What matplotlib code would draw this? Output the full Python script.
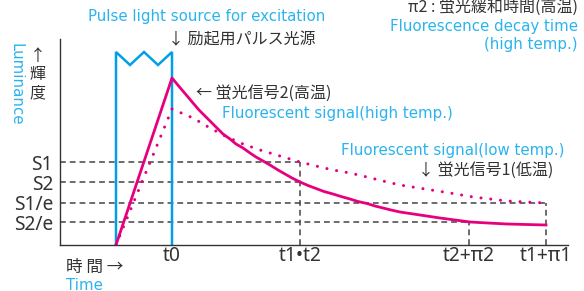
import matplotlib
matplotlib.use("Agg")
import matplotlib.pyplot as plt

plt.rcParams['font.family'] = ['Noto Sans CJK JP', 'DejaVu Sans']

MAGENTA = "#e6007e"
CYAN = "#00a0e9"
CYAN_TXT = "#29b4ee"
GRAY = "#333333"
DASH = "#444444"
EN = ['DejaVu Sans']

# time / luminance in arbitrary units (origin at the axes corner)
pulse_x = [56, 56, 70, 84, 98, 112, 112]
pulse_y = [0, 193, 180, 193, 180, 193, 0]

high_x = [56, 112, 117, 122, 128, 133, 139, 145, 151, 157, 163, 170, 176, 183,
          190, 196, 203, 210, 218, 225, 232, 240, 248, 256, 264, 273, 281,
          290, 298, 307, 315, 323, 331, 340, 350, 360, 370, 380, 395, 410,
          428, 447, 466, 486]
high_y = [0, 167, 161, 155, 148, 142, 135, 129, 123, 117, 111, 106, 101, 97,
          92, 88, 84, 80, 75, 71, 67, 63, 59.5, 56.5, 53.5, 51, 48.5,
          46, 43.5, 41.5, 39, 37, 35, 33, 31.5, 30, 28.5, 27, 25, 23,
          22, 21, 20.5, 20]

low_x = [56, 112, 133, 150, 167, 183, 200, 220, 240, 256, 273, 290, 307, 323,
         340, 365, 390, 413, 447, 486]
low_y = [0, 136, 127, 117, 108, 101, 95, 89, 83, 79, 75, 72, 68, 64,
         60, 56, 52, 48, 44, 42]

levels = [83, 63, 42, 23]
level_labels = ["S1", "S2", "S1/e", "S2/e"]
level_end = [240, 240, 486, 409]

times = [112, 240, 409, 486]
time_labels = ["t0", "t1•t2", "t2+π2", "t1+π1"]
time_top = [None, 83, 23, 42]

W, H = 584, 291
fig = plt.figure(figsize=(W / 100, H / 100), dpi=100)
ax = fig.add_axes([60 / W, 46 / H, 508 / W, 206 / H])
ax.set_xlim(0, 508)
ax.set_ylim(0, 206)
for s in ["top", "right"]:
    ax.spines[s].set_visible(False)
for s in ["left", "bottom"]:
    ax.spines[s].set_color(GRAY)
    ax.spines[s].set_linewidth(1.0)

# dashed guides
for lv, xe in zip(levels, level_end):
    ax.plot([0, xe], [lv, lv], color=DASH, lw=1.1, dashes=(3.8, 2.6))
for t, top in zip(times, time_top):
    if top is not None:
        ax.plot([t, t], [0, top], color=DASH, lw=1.1, dashes=(3.8, 2.6))

ax.plot(pulse_x, pulse_y, color=CYAN, lw=1.8, solid_joinstyle="miter")
ax.plot(low_x, low_y, color=MAGENTA, lw=2.2, linestyle=(0, (0.01, 3.2)),
        dash_capstyle="round")
ax.plot(high_x, high_y, color=MAGENTA, lw=2.0)

ax.set_xticks(times, time_labels)
ax.set_yticks(levels, level_labels)
ax.tick_params(length=0, labelsize=13.8, colors=GRAY)
ax.tick_params(axis="x", pad=1)
ax.tick_params(axis="y", pad=5)
for lab in ax.get_xticklabels() + ax.get_yticklabels():
    lab.set_family(['Noto Sans', 'DejaVu Sans'])


def ftext(x, y, s, **kw):
    fig.text(x / W, 1 - y / H, s, va="center", **kw)


ftext(88, 17, "Pulse light source for excitation", color=CYAN_TXT,
      fontsize=10.8, family=EN)
ftext(168, 40, "↓ 励起用パルス光源", color=GRAY, fontsize=11.5)
ftext(578, 8, "π2 : 蛍光緩和時間(高温)", color=GRAY, fontsize=11.5, ha="right")
ftext(578, 27, "Fluorescence decay time", color=CYAN_TXT, fontsize=10.8,
      ha="right", family=EN)
ftext(578, 45, "(high temp.)", color=CYAN_TXT, fontsize=10.8, ha="right",
      family=EN)
ftext(196, 93, "← 蛍光信号2(高温)", color=GRAY, fontsize=11.5)
ftext(222, 114, "Fluorescent signal(high temp.)", color=CYAN_TXT,
      fontsize=10.8, family=EN)
ftext(341, 151, "Fluorescent signal(low temp.)", color=CYAN_TXT,
      fontsize=10.8, family=EN)
ftext(418, 170, "↓ 蛍光信号1(低温)", color=GRAY, fontsize=11.5)
ftext(38, 75, "↑\n輝\n度", color=GRAY, fontsize=11.5, ha="center",
      linespacing=1.1)
ftext(16, 84, "Luminance", color=CYAN_TXT, fontsize=10.8, ha="center",
      rotation=-90, family=EN)
ftext(66, 267, "時 間 →", color=GRAY, fontsize=12)
ftext(66, 285, "Time", color=CYAN_TXT, fontsize=10.8, family=EN)

fig.savefig("out.png", dpi=100)
